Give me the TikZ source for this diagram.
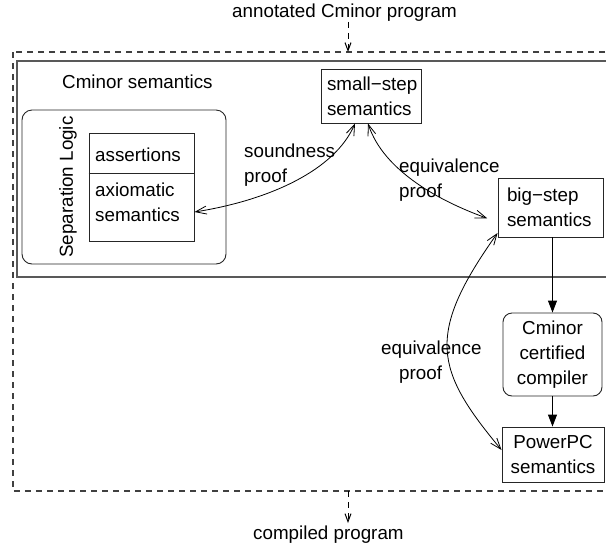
\documentclass[tikz,border=0pt]{standalone}
\usepackage{fontspec}
\setmainfont{Liberation Sans}
\usetikzlibrary{arrows.meta}
\begin{document}
\begin{tikzpicture}[x=1pt,y=-1pt,
  every node/.style={font=\fontsize{18.8}{25}\selectfont, inner sep=0pt},
  box/.style={draw=black!85, line width=0.9pt},
  lbl/.style={anchor=west, align=left},
  proofarrow/.style={line width=0.8pt, {Straight Barb[length=11pt,width=8pt]}-{Straight Barb[length=11pt,width=8pt]}},
  flow/.style={line width=1pt, -{Triangle[length=12pt,width=9pt]}},
  dasharrow/.style={line width=1pt, dash pattern=on 6pt off 5pt, -{Straight Barb[length=8pt,width=6pt]}},
  dashbox/.style={draw=black!75, line width=1.2pt, dash pattern=on 6pt off 5pt},
  solidbox/.style={draw=black!65, line width=1.8pt}]
\clip (0,0) rectangle (606,550);
\fill[white] (0,0) rectangle (606,550);

% outer frames
\draw[dashbox] (13,52) rectangle (640,491);
\draw[solidbox] (17,61) rectangle (640,277);
\coordinate (tin) at (348,52);
\coordinate (bout) at (348,491);

% texts outside
\node[anchor=west] (ta) at (232,13) {annotated Cminor program};
\node[anchor=west] (cp) at (253,535) {compiled program};
\node[anchor=west] (cs) at (62,82) {Cminor semantics};

% separation logic
\node[box, rounded corners=10pt, minimum width=204, minimum height=154] (sl) at (124,187) {};
\node[rotate=90] (slt) at (68,187) {Separation Logic};
\node[box, minimum width=105, minimum height=108] (ib) at (141.5,187) {};
\draw[box] (ib.west |- 0,173) -- (ib.east |- 0,173);
\node[lbl] (as) at (95,155) {assertions};
\node[lbl] (ax) at (95,202.5) {axiomatic\\semantics};

% semantics boxes
\node[box, minimum width=100, minimum height=54, text width=88, align=left] (ss) at (371,96) {small−step\\semantics};
\node[box, minimum width=105, minimum height=59, text width=87, align=left] (bs) at (550.5,207.5) {big−step\\semantics};
\node[box, rounded corners=9pt, minimum width=99, minimum height=83, align=center] (cc) at (552.5,354.5) {Cminor\\certified\\compiler};
\node[box, minimum width=102, minimum height=55, align=center] (pp) at (553,454.5) {PowerPC\\semantics};

% labels
\node[lbl] (l1) at (244,165.5) {soundness\\proof};
\node[lbl] (l2) at (399,180) {equivalence\\proof};
\node[lbl] (l3) at (381,362) {equivalence\\\hspace{18pt}proof};

% connectors
\draw[proofarrow] (ib.east |- 0,212) .. controls (270,200) and (335,170) .. (ss.south -| 355,0);
\draw[proofarrow, shorten >=11pt] (ss.south -| 368,0) .. controls (384,172) and (442,202) .. (bs.west |- 0,222);
\draw[proofarrow] (bs.west |- 0,233) .. controls (425,335) and (435,370) .. (pp.west |- 0,450);

\draw[flow] (bs.south -| cc.north) -- (cc.north);
\draw[flow] (cc.south) -- (pp.north -| cc.south);

\draw[dasharrow] (ta.south -| tin) -- (tin);
\draw[dasharrow, shorten >=3pt] (bout) -- (cp.north -| bout);
\end{tikzpicture}
\end{document}
